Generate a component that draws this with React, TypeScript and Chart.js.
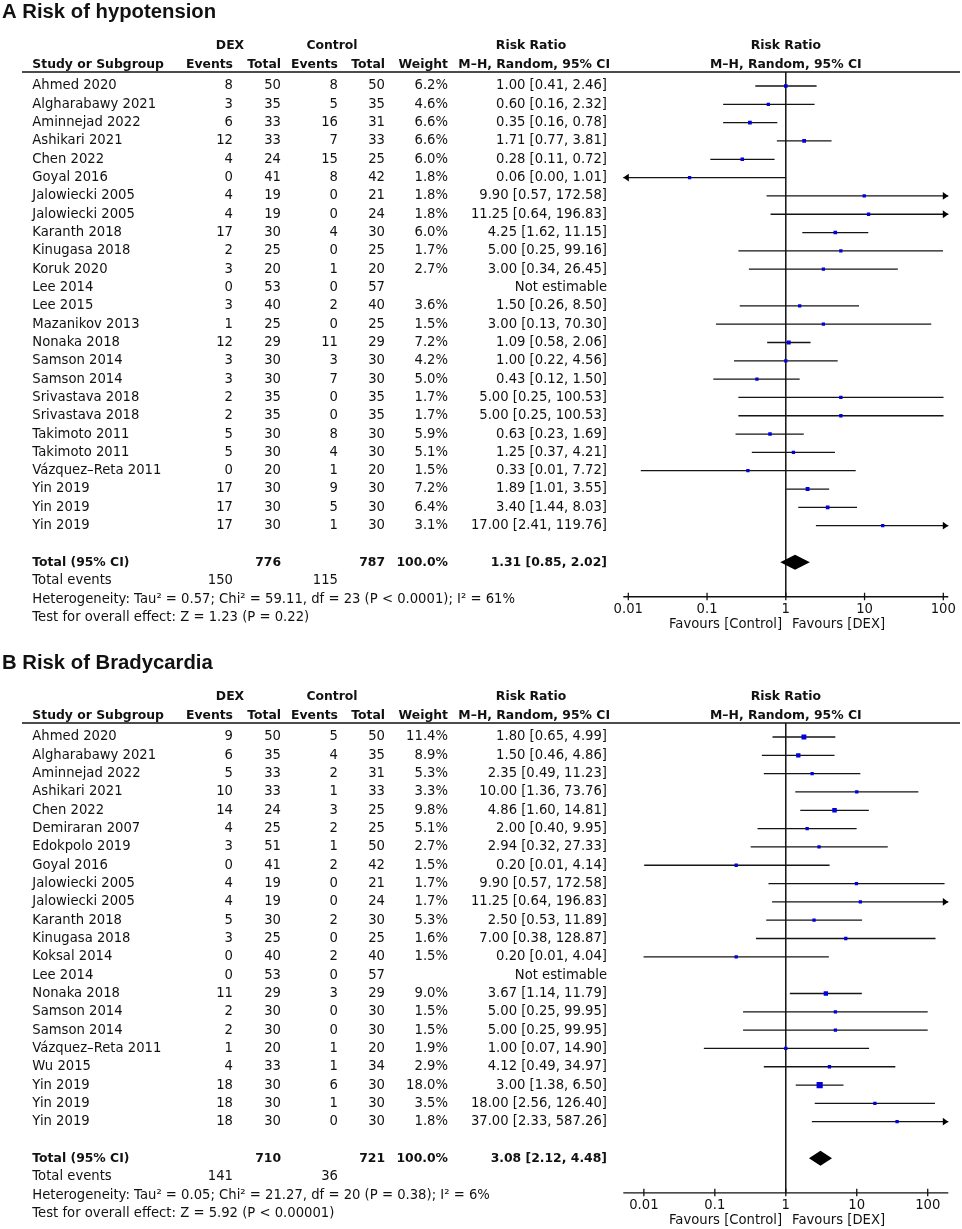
import React, { useEffect, useRef } from 'react';
import { Chart, registerables } from 'chart.js';
Chart.register(...registerables);

// ---------------- Panel A: Risk of hypotension ----------------
const studiesA = [
  'Ahmed 2020', 'Algharabawy 2021', 'Aminnejad 2022', 'Ashikari 2021', 'Chen 2022', 'Goyal 2016',
  'Jalowiecki 2005', 'Jalowiecki 2005', 'Karanth 2018', 'Kinugasa 2018', 'Koruk 2020', 'Lee 2014',
  'Lee 2015', 'Mazanikov 2013', 'Nonaka 2018', 'Samson 2014', 'Samson 2014', 'Srivastava 2018',
  'Srivastava 2018', 'Takimoto 2011', 'Takimoto 2011', 'Vázquez–Reta 2011', 'Yin 2019', 'Yin 2019', 'Yin 2019',
];
const dexEventsA = [8, 3, 6, 12, 4, 0, 4, 4, 17, 2, 3, 0, 3, 1, 12, 3, 3, 2, 2, 5, 5, 0, 17, 17, 17];
const dexTotalA = [50, 35, 33, 33, 24, 41, 19, 19, 30, 25, 20, 53, 40, 25, 29, 30, 30, 35, 35, 30, 30, 20, 30, 30, 30];
const ctrlEventsA = [8, 5, 16, 7, 15, 8, 0, 0, 4, 0, 1, 0, 2, 0, 11, 3, 7, 0, 0, 8, 4, 1, 9, 5, 1];
const ctrlTotalA = [50, 35, 31, 33, 25, 42, 21, 24, 30, 25, 20, 57, 40, 25, 29, 30, 30, 35, 35, 30, 30, 20, 30, 30, 30];
const weightA = [6.2, 4.6, 6.6, 6.6, 6.0, 1.8, 1.8, 1.8, 6.0, 1.7, 2.7, null, 3.6, 1.5, 7.2, 4.2, 5.0, 1.7, 1.7, 5.9, 5.1, 1.5, 7.2, 6.4, 3.1];
const rrA = [1.0, 0.6, 0.35, 1.71, 0.28, 0.06, 9.9, 11.25, 4.25, 5.0, 3.0, null, 1.5, 3.0, 1.09, 1.0, 0.43, 5.0, 5.0, 0.63, 1.25, 0.33, 1.89, 3.4, 17.0];
const loA = [0.41, 0.16, 0.16, 0.77, 0.11, 0.0036, 0.57, 0.64, 1.62, 0.25, 0.34, null, 0.26, 0.13, 0.58, 0.22, 0.12, 0.25, 0.25, 0.23, 0.37, 0.0144, 1.01, 1.44, 2.41];
const hiA = [2.46, 2.32, 0.78, 3.81, 0.72, 1.01, 172.58, 196.83, 11.15, 99.16, 26.45, null, 8.5, 70.3, 2.06, 4.56, 1.5, 100.53, 100.53, 1.69, 4.21, 7.72, 3.55, 8.03, 119.76];
const totalsA = [776, 787];
const totalEventsA = [150, 115];
const pooledA = [1.31, 0.85, 2.02];
const heterogeneityA = 'Heterogeneity: Tau² = 0.57; Chi² = 59.11, df = 23 (P < 0.0001); I² = 61%';
const overallA = 'Test for overall effect: Z = 1.23 (P = 0.22)';

// ---------------- Panel B: Risk of Bradycardia ----------------
const studiesB = [
  'Ahmed 2020', 'Algharabawy 2021', 'Aminnejad 2022', 'Ashikari 2021', 'Chen 2022', 'Demiraran 2007',
  'Edokpolo 2019', 'Goyal 2016', 'Jalowiecki 2005', 'Jalowiecki 2005', 'Karanth 2018', 'Kinugasa 2018',
  'Koksal 2014', 'Lee 2014', 'Nonaka 2018', 'Samson 2014', 'Samson 2014', 'Vázquez–Reta 2011',
  'Wu 2015', 'Yin 2019', 'Yin 2019', 'Yin 2019',
];
const dexEventsB = [9, 6, 5, 10, 14, 4, 3, 0, 4, 4, 5, 3, 0, 0, 11, 2, 2, 1, 4, 18, 18, 18];
const dexTotalB = [50, 35, 33, 33, 24, 25, 51, 41, 19, 19, 30, 25, 40, 53, 29, 30, 30, 20, 33, 30, 30, 30];
const ctrlEventsB = [5, 4, 2, 1, 3, 2, 1, 2, 0, 0, 2, 0, 2, 0, 3, 0, 0, 1, 1, 6, 1, 0];
const ctrlTotalB = [50, 35, 31, 33, 25, 25, 50, 42, 21, 24, 30, 25, 40, 57, 29, 30, 30, 20, 34, 30, 30, 30];
const weightB = [11.4, 8.9, 5.3, 3.3, 9.8, 5.1, 2.7, 1.5, 1.7, 1.7, 5.3, 1.6, 1.5, null, 9.0, 1.5, 1.5, 1.9, 2.9, 18.0, 3.5, 1.8];
const rrB = [1.8, 1.5, 2.35, 10.0, 4.86, 2.0, 2.94, 0.2, 9.9, 11.25, 2.5, 7.0, 0.2, null, 3.67, 5.0, 5.0, 1.0, 4.12, 3.0, 18.0, 37.0];
const loB = [0.65, 0.46, 0.49, 1.36, 1.6, 0.4, 0.32, 0.0101, 0.57, 0.64, 0.53, 0.38, 0.0099, null, 1.14, 0.25, 0.25, 0.07, 0.49, 1.38, 2.56, 2.33];
const hiB = [4.99, 4.86, 11.23, 73.76, 14.81, 9.95, 27.33, 4.14, 172.58, 196.83, 11.89, 128.87, 4.04, null, 11.79, 99.95, 99.95, 14.9, 34.97, 6.5, 126.4, 587.26];
const totalsB = [710, 721];
const totalEventsB = [141, 36];
const pooledB = [3.08, 2.12, 4.48];
const heterogeneityB = 'Heterogeneity: Tau² = 0.05; Chi² = 21.27, df = 20 (P = 0.38); I² = 6%';
const overallB = 'Test for overall effect: Z = 5.92 (P < 0.00001)';

// axis
const xTicks = [0.01, 0.1, 1, 10, 100];
const xTickLabels = ['0.01', '0.1', '1', '10', '100'];

// ---------------- layout constants ----------------
const W = 962;
const ROW = 18.32;
const PLOT_TOP = 72;
const PLOT_LEFT = 623.3;
const PLOT_RIGHT = 948.3;
const Y_MIN = -0.764;

const REG = '13.2px "DejaVu Sans"';
const BOLD = 'bold 12.4px "DejaVu Sans"';
const TITLE = 'bold 20.3px "Liberation Sans", Arial, sans-serif';
const TXT = '#111';

const C_NAME = 32.3;
const C_DEXEV = 233;
const C_DEXTOT = 281;
const C_CTLEV = 338;
const C_CTLTOT = 385;
const C_WEIGHT = 448;
const C_RR = 607;

type Panel = {
  title: string;
  studies: string[];
  dexEv: number[];
  dexTot: number[];
  ctlEv: number[];
  ctlTot: number[];
  weight: (number | null)[];
  rr: (number | null)[];
  lo: (number | null)[];
  hi: (number | null)[];
  totals: number[];
  totalEvents: number[];
  pooled: number[];
  hetero: string;
  overall: string;
  xMin: number;
  xMax: number;
  height: number;
};

const panelA: Panel = {
  title: 'A Risk of hypotension', studies: studiesA, dexEv: dexEventsA, dexTot: dexTotalA,
  ctlEv: ctrlEventsA, ctlTot: ctrlTotalA, weight: weightA, rr: rrA, lo: loA, hi: hiA,
  totals: totalsA, totalEvents: totalEventsA, pooled: pooledA, hetero: heterogeneityA, overall: overallA,
  xMin: 0.00864, xMax: 115.7, height: 651,
};
const panelB: Panel = {
  title: 'B Risk of Bradycardia', studies: studiesB, dexEv: dexEventsB, dexTot: dexTotalB,
  ctlEv: ctrlEventsB, ctlTot: ctrlTotalB, weight: weightB, rr: rrB, lo: loB, hi: hiB,
  totals: totalsB, totalEvents: totalEventsB, pooled: pooledB, hetero: heterogeneityB, overall: overallB,
  xMin: 0.00513, xMax: 195, height: 578,
};

const fmtCI = (r: number, l: number, h: number) => `${r.toFixed(2)} [${l.toFixed(2)}, ${h.toFixed(2)}]`;

function text(ctx: CanvasRenderingContext2D, s: string, x: number, y: number, align: CanvasTextAlign, font: string) {
  ctx.font = font;
  ctx.textAlign = align;
  ctx.textBaseline = 'middle';
  ctx.fillStyle = TXT;
  ctx.fillText(s, x, y);
}

function makePlugin(p: Panel) {
  const n = p.studies.length;
  return {
    id: 'forest',
    beforeDraw(chart: any) {
      const ctx = chart.ctx as CanvasRenderingContext2D;
      ctx.save();
      ctx.fillStyle = '#fff';
      ctx.fillRect(0, 0, chart.width, chart.height);
      ctx.restore();
    },
    beforeDatasetsDraw(chart: any) {
      const ctx = chart.ctx as CanvasRenderingContext2D;
      const a = chart.chartArea;
      const x = chart.scales.x;
      const y = chart.scales.y;
      ctx.save();
      // line of no effect
      const x1 = x.getPixelForValue(1);
      ctx.strokeStyle = '#000';
      ctx.lineWidth = 1.4;
      ctx.beginPath();
      ctx.moveTo(x1, a.top);
      ctx.lineTo(x1, a.bottom);
      ctx.stroke();
      // confidence intervals
      ctx.strokeStyle = '#151515';
      ctx.fillStyle = '#000';
      ctx.lineWidth = 1.3;
      for (let i = 0; i < n; i++) {
        const r = p.rr[i], l = p.lo[i], h = p.hi[i];
        if (r == null || l == null || h == null) continue;
        const yy = y.getPixelForValue(i);
        const arrowL = l < p.xMin;
        const arrowR = h > p.xMax;
        const xl = arrowL ? a.left : x.getPixelForValue(l);
        const xr = arrowR ? a.right : x.getPixelForValue(h);
        ctx.beginPath();
        ctx.moveTo(xl, yy);
        ctx.lineTo(xr, yy);
        ctx.stroke();
        if (arrowL) {
          ctx.beginPath();
          ctx.moveTo(a.left, yy);
          ctx.lineTo(a.left + 5.5, yy - 3.9);
          ctx.lineTo(a.left + 5.5, yy + 3.9);
          ctx.closePath();
          ctx.fill();
        }
        if (arrowR) {
          ctx.beginPath();
          ctx.moveTo(a.right, yy);
          ctx.lineTo(a.right - 5.5, yy - 3.9);
          ctx.lineTo(a.right - 5.5, yy + 3.9);
          ctx.closePath();
          ctx.fill();
        }
      }
      ctx.restore();
    },
    afterDatasetsDraw(chart: any) {
      const ctx = chart.ctx as CanvasRenderingContext2D;
      const x = chart.scales.x;
      const y = chart.scales.y;
      const yy = y.getPixelForValue(n + 1);
      const [r, l, h] = p.pooled;
      ctx.save();
      ctx.fillStyle = '#000';
      ctx.beginPath();
      ctx.moveTo(x.getPixelForValue(l), yy);
      ctx.lineTo(x.getPixelForValue(r), yy - 7.5);
      ctx.lineTo(x.getPixelForValue(h), yy);
      ctx.lineTo(x.getPixelForValue(r), yy + 7.5);
      ctx.closePath();
      ctx.fill();
      ctx.restore();
    },
    afterDraw(chart: any) {
      const ctx = chart.ctx as CanvasRenderingContext2D;
      const a = chart.chartArea;
      const x = chart.scales.x;
      const y = chart.scales.y;
      ctx.save();
      const x1 = x.getPixelForValue(1);
      // title
      text(ctx, p.title, 2, y.getPixelForValue(-4.0), 'left', TITLE);
      // headers
      const h1 = y.getPixelForValue(-2.17);
      const h2 = y.getPixelForValue(-1.15);
      text(ctx, 'DEX', 230, h1, 'center', BOLD);
      text(ctx, 'Control', 332, h1, 'center', BOLD);
      text(ctx, 'Risk Ratio', 531, h1, 'center', BOLD);
      text(ctx, 'Risk Ratio', x1, h1, 'center', BOLD);
      text(ctx, 'Study or Subgroup', C_NAME, h2, 'left', BOLD);
      text(ctx, 'Events', C_DEXEV, h2, 'right', BOLD);
      text(ctx, 'Total', C_DEXTOT, h2, 'right', BOLD);
      text(ctx, 'Events', C_CTLEV, h2, 'right', BOLD);
      text(ctx, 'Total', C_CTLTOT, h2, 'right', BOLD);
      text(ctx, 'Weight', C_WEIGHT, h2, 'right', BOLD);
      text(ctx, 'M–H, Random, 95% CI', 610, h2, 'right', BOLD);
      text(ctx, 'M–H, Random, 95% CI', x1, h2, 'center', BOLD);
      // header rule
      ctx.strokeStyle = '#111';
      ctx.lineWidth = 1.4;
      ctx.beginPath();
      ctx.moveTo(22, a.top);
      ctx.lineTo(960, a.top);
      ctx.stroke();
      // study rows
      for (let i = 0; i < n; i++) {
        const yy = y.getPixelForValue(i);
        text(ctx, p.studies[i], C_NAME, yy, 'left', REG);
        text(ctx, String(p.dexEv[i]), C_DEXEV, yy, 'right', REG);
        text(ctx, String(p.dexTot[i]), C_DEXTOT, yy, 'right', REG);
        text(ctx, String(p.ctlEv[i]), C_CTLEV, yy, 'right', REG);
        text(ctx, String(p.ctlTot[i]), C_CTLTOT, yy, 'right', REG);
        const w = p.weight[i];
        if (w != null) text(ctx, w.toFixed(1) + '%', C_WEIGHT, yy, 'right', REG);
        const r = p.rr[i], l = p.lo[i], h = p.hi[i];
        text(ctx, r == null || l == null || h == null ? 'Not estimable' : fmtCI(r, l, h), C_RR, yy, 'right', REG);
      }
      // total rows
      const yt = y.getPixelForValue(n + 1);
      text(ctx, 'Total (95% CI)', C_NAME, yt, 'left', BOLD);
      text(ctx, String(p.totals[0]), C_DEXTOT, yt, 'right', BOLD);
      text(ctx, String(p.totals[1]), C_CTLTOT, yt, 'right', BOLD);
      text(ctx, '100.0%', C_WEIGHT, yt, 'right', BOLD);
      text(ctx, fmtCI(p.pooled[0], p.pooled[1], p.pooled[2]), C_RR, yt, 'right', BOLD);
      const ye = y.getPixelForValue(n + 2.02);
      text(ctx, 'Total events', C_NAME, ye, 'left', REG);
      text(ctx, String(p.totalEvents[0]), C_DEXEV, ye, 'right', REG);
      text(ctx, String(p.totalEvents[1]), C_CTLEV, ye, 'right', REG);
      text(ctx, p.hetero, C_NAME, y.getPixelForValue(n + 3.02), 'left', REG);
      text(ctx, p.overall, C_NAME, y.getPixelForValue(n + 4.04), 'left', REG);
      // x axis
      ctx.strokeStyle = '#111';
      ctx.lineWidth = 1.3;
      ctx.beginPath();
      ctx.moveTo(a.left, a.bottom);
      ctx.lineTo(a.right, a.bottom);
      ctx.stroke();
      xTicks.forEach((t, k) => {
        const xp = x.getPixelForValue(t);
        ctx.beginPath();
        ctx.moveTo(xp, a.bottom - 4);
        ctx.lineTo(xp, a.bottom + 3.5);
        ctx.stroke();
        text(ctx, xTickLabels[k], xp, a.bottom + 12.8, 'center', REG);
      });
      text(ctx, 'Favours [Control]', x1 - 3.7, a.bottom + 27.4, 'right', REG);
      text(ctx, 'Favours [DEX]', x1 + 6.3, a.bottom + 27.4, 'left', REG);
      ctx.restore();
    },
  };
}

function ForestPanel({ panel }: { panel: Panel }) {
  const ref = useRef<HTMLCanvasElement>(null);
  useEffect(() => {
    const p = panel;
    const n = p.studies.length;
    const yMax = n + 2.88;
    const plotH = (yMax - Y_MIN) * ROW;
    const bottomPad = p.height - PLOT_TOP - plotH;
    const pts: { x: number; y: number }[] = [];
    const radii: number[] = [];
    p.rr.forEach((r, i) => {
      const w = p.weight[i];
      if (r == null || w == null) return;
      pts.push({ x: r, y: i });
      const side = Math.max(3.3, 1.45 * Math.sqrt(w));
      radii.push(side / Math.SQRT2);
    });
    const chart = new Chart(ref.current as HTMLCanvasElement, {
      type: 'scatter',
      data: {
        datasets: [
          {
            data: pts,
            pointStyle: 'rect',
            pointRadius: radii,
            pointHoverRadius: radii,
            pointBackgroundColor: '#0000e0',
            pointBorderColor: '#0000e0',
            pointBorderWidth: 0,
            showLine: false,
          } as any,
        ],
      },
      options: {
        animation: false,
        responsive: false,
        maintainAspectRatio: false,
        events: [],
        layout: {
          padding: { left: PLOT_LEFT, right: W - PLOT_RIGHT, top: PLOT_TOP, bottom: bottomPad },
        },
        plugins: { legend: { display: false }, tooltip: { enabled: false } },
        scales: {
          x: { type: 'logarithmic', min: p.xMin, max: p.xMax, bounds: 'data', display: false },
          y: { type: 'linear', min: Y_MIN, max: yMax, reverse: true, bounds: 'data', display: false },
        },
      } as any,
      plugins: [makePlugin(p) as any],
    });
    return () => chart.destroy();
  }, [panel]);
  return <canvas ref={ref} width={W} height={panel.height} style={{ display: 'block', width: W, height: panel.height }} />;
}

export default function App() {
  return (
    <div style={{ position: 'absolute', left: 0, top: 0, width: W, height: 1229, background: '#fff' }}>
      <ForestPanel panel={panelA} />
      <ForestPanel panel={panelB} />
    </div>
  );
}
